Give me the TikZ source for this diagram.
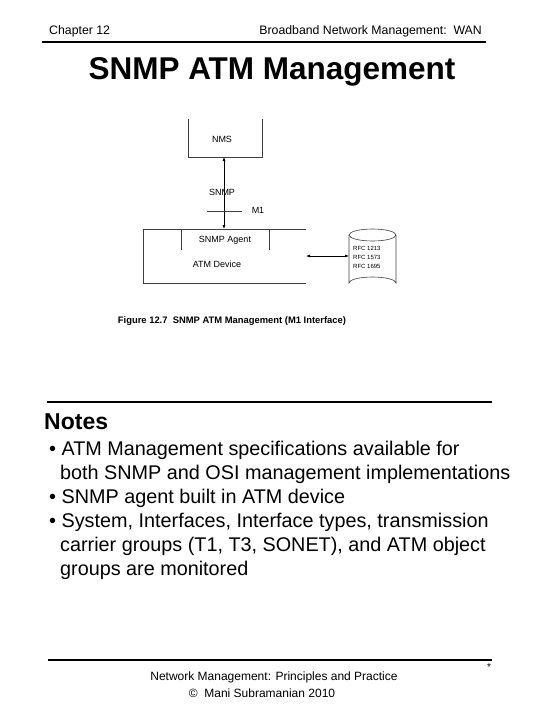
\documentclass[tikz,border=0pt]{standalone}
\usepackage{fontspec}
\setmainfont{Liberation Sans}
\usetikzlibrary{arrows.meta}
\begin{document}
\begin{tikzpicture}[x=1pt,y=-1pt,
  line/.style={draw=black!75,line width=0.6pt},
  conn/.style={draw=black,line width=0.6pt,{Latex[length=4pt,width=3pt]}-{Latex[length=4pt,width=3pt]}},
  lbl/.style={inner sep=0pt,font=\fontsize{9}{10}\selectfont},
  rule/.style={draw=black,line width=2pt},
  note/.style={anchor=base west,inner sep=0pt,font=\fontsize{19.8}{24}\selectfont}]
\useasboundingbox (0,0) rectangle (540,720);
% header
\node[anchor=base west,inner sep=0pt,font=\fontsize{12.3}{14}\selectfont] (chap) at (49,34) {Chapter 12};
\node[anchor=base east,inner sep=0pt,font=\fontsize{12.3}{14}\selectfont] (bb) at (482,34) {Broadband Network Management:\ \ WAN};
\draw[rule] (42,42) -- (486,42);
% title
\node[anchor=base,inner sep=0pt,font=\bfseries\fontsize{31.5}{36}\selectfont] (title) at (272,79) {SNMP ATM Management};
% diagram
\draw[line] (188,119) -- (188,157) -- (262,157) -- (262,119);
\node[lbl] (nms) at (222,139) {NMS};
\coordinate (nmsb) at (224,157);
\draw[line] (306,229) -- (143,229) -- (143,283) -- (306,283);
\draw[line] (181,229) -- (181,250);
\draw[line] (269,229) -- (269,250);
\coordinate (devt) at (224,229);
\coordinate (devr) at (306,256);
\node[lbl] (agent) at (225,240) {SNMP Agent};
\node[lbl] (atm) at (217,264) {ATM Device};
\draw[conn] (nmsb) -- (devt);
\node[lbl] (snmp) at (222,192) {SNMP};
\draw[line] (207,211) -- (242,211);
\node[lbl] (m1) at (258,210) {M1};
% cylinder
\draw[line] (349,235) -- (349,283) arc[start angle=180,end angle=360,x radius=23.5,y radius=6] -- (396,235);
\draw[line] (372.5,235) ellipse[x radius=23.5,y radius=6];
\coordinate (cylL) at (349,256);
\draw[conn] (devr) -- (cylL);
\node[anchor=west,inner sep=0pt,align=left,font=\fontsize{6}{9}\selectfont] (rfc) at (353,257) {RFC 1213\\RFC 1573\\RFC 1695};
% caption
\node[anchor=base,inner sep=0pt,font=\bfseries\fontsize{9.4}{11}\selectfont] (cap) at (232,323) {Figure 12.7\ \ SNMP ATM Management (M1 Interface)};
% notes
\draw[draw=black,line width=1.5pt] (47,402) -- (492,402);
\node[anchor=base west,inner sep=0pt,font=\bfseries\fontsize{23}{28}\selectfont] (notes) at (44,429) {Notes};
\node[note] (n1) at (49,455) {• ATM Management specifications available for};
\node[note] (n2) at (60,479) {both SNMP and OSI management implementations};
\node[note] (n3) at (49,503) {• SNMP agent built in ATM device};
\node[note] (n4) at (49,527) {• System, Interfaces, Interface types, transmission};
\node[note] (n5) at (60,551) {carrier groups (T1, T3, SONET), and ATM object};
\node[note] (n6) at (60,575) {groups are monitored};
% footer
\draw[draw=black,line width=1.5pt] (48,660) -- (492,660);
\node[inner sep=0pt,font=\fontsize{10}{12}\selectfont] (star) at (489,667) {*};
\node[anchor=base,inner sep=0pt,font=\fontsize{12}{14}\selectfont] (f1) at (274,680) {Network Management: Principles and Practice};
\node[anchor=base,inner sep=0pt,font=\fontsize{12}{14}\selectfont] (f2) at (262,697) {©\ \ Mani Subramanian 2010};
\end{tikzpicture}
\end{document}
